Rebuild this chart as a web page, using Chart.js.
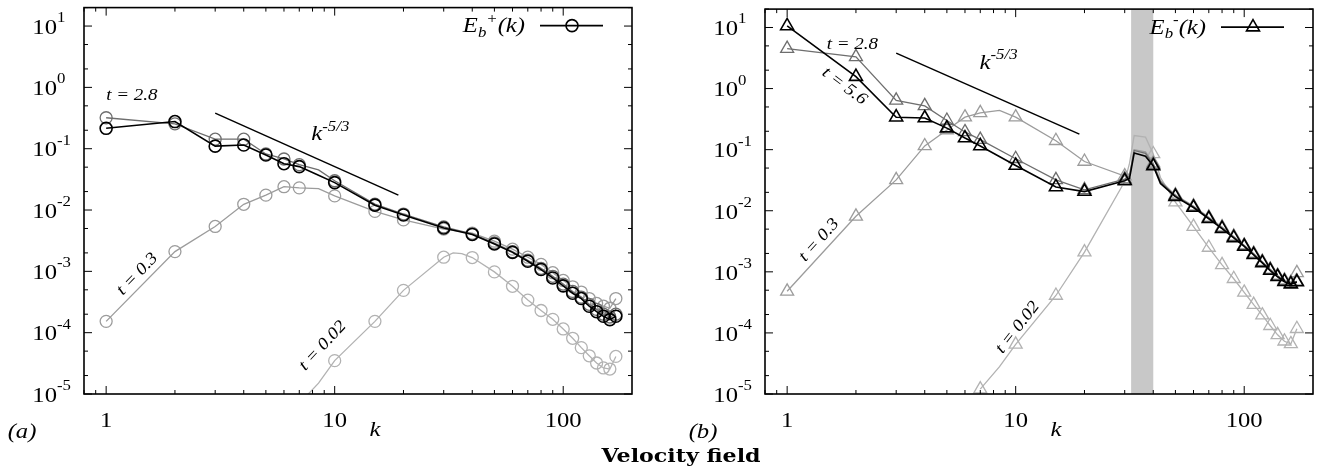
<!DOCTYPE html>
<html>
<head>
<meta charset="utf-8">
<script src="https://cdn.jsdelivr.net/npm/chart.js@4.4.0/dist/chart.umd.min.js"></script>
<style>
  html, body { margin: 0; padding: 0; background: #fff; }
  #wrap { position: relative; width: 1323px; height: 475px; }
  #wrap canvas { position: absolute; left: 0; top: 0; }
</style>
</head>
<body>
<div id="wrap">
  <canvas id="panel-a" width="1323" height="475"></canvas>
  <canvas id="panel-b" width="1323" height="475"></canvas>
</div>
<script>
// wavenumbers sampled; markers only on markedK, the rest just bend the line
const markedK = [1, 2, 3, 4, 5, 6, 7, 10, 15, 20, 30, 40, 50, 60, 70, 80, 90, 100, 110, 120, 130, 140, 150, 160, 170];

// panel (a): E_b^+(k)
const kLeft = [1, 2, 3, 4, 5, 6, 7, 8.5, 10, 15, 20, 30, 33, 36, 40, 50, 60, 70, 80, 90, 100, 110, 120, 130, 140, 150, 160, 170];
const leftT56 = [0.215, 0.277, 0.11, 0.115, 0.079, 0.057, 0.051, 0.037, 0.028, 0.012, 0.0083, 0.0051, null, null, 0.0040, 0.0028, 0.00204, 0.00146, 0.00107, 0.00078, 0.00058, 0.00044, 0.00036, 0.00027, 0.00022, 0.000185, 0.000163, 0.000185];
const leftT28 = [0.32, 0.255, 0.143, 0.143, 0.082, 0.068, 0.055, 0.045, 0.030, 0.0125, 0.0086, 0.0053, null, null, 0.0041, 0.0029, 0.0021, 0.00152, 0.00112, 0.00083, 0.00062, 0.00047, 0.00038, 0.00029, 0.00024, 0.0002, 0.00018, 0.0002];
const leftT03 = [1.53e-4, 2.1e-3, 5.4e-3, 0.0124, 0.0175, 0.024, 0.023, 0.0224, 0.017, 0.0095, 0.0069, 0.0049, null, null, 0.0042, 0.0031, 0.0023, 0.0017, 0.0013, 0.00095, 0.00071, 0.00056, 0.00046, 0.00036, 0.0003, 0.00027, 0.00025, 0.00036];
const leftT002 = [null, null, null, null, null, null, 7e-6, 1.5e-5, 3.5e-5, 1.53e-4, 4.9e-4, 1.7e-3, 2.0e-3, 1.95e-3, 1.68e-3, 9.8e-4, 5.7e-4, 3.4e-4, 2.3e-4, 1.65e-4, 1.15e-4, 8.1e-5, 5.7e-5, 4.2e-5, 3.2e-5, 2.66e-5, 2.55e-5, 4.1e-5];
const leftSlope = [[3, 0.38], [19, 0.0175]];

// panel (b): E_b^-(k)
const kRight = [1, 2, 3, 4, 5, 6, 7, 8.5, 10, 15, 20, 30, 31.5, 33, 37, 40, 43, 50, 60, 70, 80, 90, 100, 110, 120, 130, 140, 150, 160, 170];
const rightT56 = [10.6, 1.57, 0.34, 0.33, 0.225, 0.155, 0.115, null, 0.055, 0.0245, 0.0206, 0.031, 0.034, 0.088, 0.078, 0.054, 0.028, 0.017, 0.0113, 0.0074, 0.0051, 0.0036, 0.0026, 0.0019, 0.0014, 0.00105, 0.00083, 0.00069, 0.00063, 0.00068];
const rightT28 = [4.5, 3.3, 0.64, 0.52, 0.30, 0.195, 0.146, null, 0.071, 0.032, 0.022, 0.033, 0.037, 0.097, 0.087, 0.057, 0.03, 0.0175, 0.0116, 0.0076, 0.0052, 0.0037, 0.0027, 0.00195, 0.00144, 0.00108, 0.00085, 0.0007, 0.00064, 0.0007];
const rightT03 = [4.8e-4, 0.0081, 0.032, 0.115, 0.21, 0.34, 0.40, 0.44, 0.34, 0.14, 0.064, 0.037, 0.04, 0.10, 0.092, 0.06, 0.031, 0.018, 0.0119, 0.0078, 0.0054, 0.0038, 0.0027, 0.002, 0.00147, 0.0011, 0.00087, 0.00073, 0.00067, 0.00096];
const rightT002 = [null, null, null, null, null, null, 1.2e-5, 2.8e-5, 6.5e-5, 4.1e-4, 2.1e-3, 0.03, 0.06, 0.17, 0.16, 0.085, 0.035, 0.0138, 0.0055, 0.0025, 0.0013, 0.00077, 0.00046, 0.00029, 0.000195, 0.000131, 9.3e-5, 7.3e-5, 6.6e-5, 1.17e-4];
const rightSlope = [[3, 3.8], [19, 0.18]];
const forcingBand = [32, 40];

const xRange = [0.8, 200];
const yRange = [1e-5, 20];
const yDecades = [-5, -4, -3, -2, -1, 0, 1];
const xMajor = [1, 10, 100];

const SERIF = '"Liberation Serif", "Times New Roman", serif';
const HS = 1.12; // text in the source is a little wider than tall

function pts(ks, vals) {
  return ks.map((k, i) => ({ x: k, y: vals[i] }));
}

function series(label, ks, vals, color, width, style, radius, order) {
  return {
    label,
    data: pts(ks, vals),
    borderColor: color,
    borderWidth: width,
    pointStyle: style,
    pointBorderColor: color,
    pointBackgroundColor: "rgba(0,0,0,0)",
    pointBorderWidth: width,
    pointRadius: c => (c.raw && markedK.includes(c.raw.x)) ? radius : 0,
    pointHoverRadius: 0,
    fill: false,
    tension: 0,
    spanGaps: true,
    clip: 0,
    order
  };
}

function slopeLine(pair) {
  return {
    label: "slope",
    data: pair.map(p => ({ x: p[0], y: p[1] })),
    borderColor: "#000",
    borderWidth: 1.5,
    pointRadius: 0,
    fill: false,
    tension: 0,
    order: 5
  };
}

function fontOf(p) {
  return `${p.style || "italic"} ${p.size}px ${p.family || SERIF}`;
}

// rich text: parts drawn one after another, stretched by hs
function drawRich(ctx, x, y, parts, align, hs) {
  hs = hs || HS;
  let w = 0;
  parts.forEach(p => { ctx.font = fontOf(p); w += ctx.measureText(p.t).width; });
  w *= hs;
  const start = align === "right" ? x - w : align === "center" ? x - w / 2 : x;
  ctx.save();
  ctx.translate(start, y);
  ctx.scale(hs, 1);
  ctx.textBaseline = "middle";
  ctx.textAlign = "left";
  let cx = 0;
  parts.forEach(p => {
    ctx.font = fontOf(p);
    ctx.fillText(p.t, cx, p.dy || 0);
    cx += ctx.measureText(p.t).width;
  });
  ctx.restore();
}

function drawMarker(ctx, style, x, y, r) {
  ctx.beginPath();
  if (style === "triangle") {
    let a = 0;
    ctx.moveTo(x + Math.sin(a) * r, y - Math.cos(a) * r);
    a += 2 * Math.PI / 3;
    ctx.lineTo(x + Math.sin(a) * r, y - Math.cos(a) * r);
    a += 2 * Math.PI / 3;
    ctx.lineTo(x + Math.sin(a) * r, y - Math.cos(a) * r);
    ctx.closePath();
  } else {
    ctx.arc(x, y, r, 0, 2 * Math.PI);
  }
  ctx.stroke();
}

function framePlugin(cfg) {
  return {
    id: "frame-" + cfg.letter,
    beforeDatasetsDraw(chart) {
      if (!cfg.band) return;
      const { ctx, chartArea: a, scales } = chart;
      const x0 = scales.x.getPixelForValue(cfg.band[0]);
      const x1 = scales.x.getPixelForValue(cfg.band[1]);
      ctx.save();
      ctx.fillStyle = "#c8c8c8";
      ctx.fillRect(x0, a.top, x1 - x0, a.bottom - a.top);
      ctx.restore();
    },
    afterDraw(chart) {
      const { ctx, chartArea: a, scales } = chart;
      const xs = scales.x, ys = scales.y;
      ctx.save();
      ctx.strokeStyle = "#000";
      ctx.fillStyle = "#000";

      // ticks, inward on all four sides
      ctx.lineWidth = 1;
      ctx.beginPath();
      yDecades.forEach(d => {
        [1, 2, 5].forEach(m => {
          const v = m * Math.pow(10, d);
          if (v < yRange[0] || v > yRange[1]) return;
          const py = ys.getPixelForValue(v);
          const len = m === 1 ? 8 : 4;
          ctx.moveTo(a.left, py); ctx.lineTo(a.left + len, py);
          ctx.moveTo(a.right, py); ctx.lineTo(a.right - len, py);
        });
      });
      [0.1, 1, 10, 100].forEach(dec => {
        for (let m = 1; m <= 9; m++) {
          const v = m * dec;
          if (v < xRange[0] || v >= xRange[1]) continue;
          const px = xs.getPixelForValue(v);
          const len = m === 1 ? 8 : 4;
          ctx.moveTo(px, a.bottom); ctx.lineTo(px, a.bottom - len);
          ctx.moveTo(px, a.top); ctx.lineTo(px, a.top + len);
        }
      });
      ctx.stroke();

      ctx.lineWidth = 1.6;
      ctx.strokeRect(a.left, a.top, a.right - a.left, a.bottom - a.top);

      // tick labels
      yDecades.forEach(d => {
        const py = ys.getPixelForValue(Math.pow(10, d));
        drawRich(ctx, a.left - 27, py + 2, [{ t: "10", size: 22, style: "normal" }], "right");
        drawRich(ctx, a.left - 27, py - 8, [{ t: String(d), size: 15, style: "normal" }], "left");
      });
      xMajor.forEach(v => {
        drawRich(ctx, xs.getPixelForValue(v), a.bottom + 27, [{ t: String(v), size: 22, style: "normal" }], "center");
      });

      // axis name and panel letter
      drawRich(ctx, xs.getPixelForValue(15), a.bottom + 36, [{ t: "k", size: 22 }], "center");
      drawRich(ctx, a.left - 62, a.bottom + 38, [{ t: `(${cfg.letter})`, size: 22 }], "center");

      // in-plot labels
      cfg.notes.forEach(n => {
        const px = xs.getPixelForValue(n.k);
        const py = ys.getPixelForValue(n.v);
        ctx.save();
        ctx.translate(px, py);
        ctx.rotate((n.rot || 0) * Math.PI / 180);
        drawRich(ctx, 0, 0, n.parts, n.align || "center");
        ctx.restore();
      });

      // key
      const ly = a.top + 18;
      drawRich(ctx, a.right - 107, ly + 1, cfg.key, "right");
      ctx.lineWidth = 1.6;
      ctx.beginPath();
      ctx.moveTo(a.right - 92, ly); ctx.lineTo(a.right - 29, ly);
      ctx.stroke();
      drawMarker(ctx, cfg.marker, a.right - 60, ly, cfg.marker === "triangle" ? 7.5 : 6);

      if (cfg.caption) {
        drawRich(ctx, 681, 457, [{ t: "Velocity field", size: 18, style: "bold", family: '"DejaVu Serif", serif' }], "center", 1.23);
      }
      ctx.restore();
    }
  };
}

function makePanel(id, cfg) {
  const r = cfg.marker === "triangle" ? 7.5 : 6;
  const axis = (range) => ({
    type: "logarithmic", min: range[0], max: range[1],
    ticks: { display: false, padding: 0 },
    grid: { display: false, drawTicks: false },
    border: { display: false }
  });
  new Chart(document.getElementById(id), {
    type: "line",
    data: {
      datasets: [
        series("t = 5.6", cfg.k, cfg.s56, "#000000", 1.6, cfg.marker, r, 0),
        series("t = 2.8", cfg.k, cfg.s28, "#6e6e6e", 1.3, cfg.marker, r, 1),
        series("t = 0.3", cfg.k, cfg.s03, "#9c9c9c", 1.3, cfg.marker, r, 2),
        series("t = 0.02", cfg.k, cfg.s002, "#b2b2b2", 1.3, cfg.marker, r, 3),
        slopeLine(cfg.slope)
      ]
    },
    options: {
      responsive: false,
      animation: false,
      devicePixelRatio: 1,
      layout: { padding: cfg.padding },
      plugins: { legend: { display: false }, tooltip: { enabled: false } },
      scales: { x: axis(xRange), y: axis(yRange) }
    },
    plugins: [framePlugin(cfg)]
  });
}

const T = (t, size) => ({ t, size });
const SUP = (t) => ({ t, size: 15, dy: -8 });
const SUB = (t) => ({ t, size: 15, dy: 6 });

makePanel("panel-a", {
  letter: "a",
  marker: "circle",
  k: kLeft, s56: leftT56, s28: leftT28, s03: leftT03, s002: leftT002,
  slope: leftSlope,
  band: null,
  padding: { left: 84, right: 691, top: 2, bottom: 81 },
  key: [T("E", 22), SUB("b"), SUP("+"), T("(k)", 22)],
  notes: [
    { k: 1.0, v: 0.75, parts: [T("t = 2.8", 17)], align: "left" },
    { k: 7.9, v: 0.17, parts: [T("k", 22), SUP("-5/3")], align: "left" },
    { k: 1.37, v: 9e-4, parts: [T("t = 0.3", 17)], rot: -46 },
    { k: 8.87, v: 6.1e-5, parts: [T("t = 0.02", 17)], rot: -47 }
  ]
});

makePanel("panel-b", {
  letter: "b",
  marker: "triangle",
  k: kRight, s56: rightT56, s28: rightT28, s03: rightT03, s002: rightT002,
  slope: rightSlope,
  band: forcingBand,
  padding: { left: 765, right: 10, top: 2, bottom: 81 },
  key: [T("E", 22), SUB("b"), SUP("-"), T("(k)", 22)],
  caption: true,
  notes: [
    { k: 1.93, v: 5.3, parts: [T("t = 2.8", 17)] },
    { k: 1.78, v: 1.09, parts: [T("t = 5.6", 17)], rot: 37 },
    { k: 6.95, v: 2.64, parts: [T("k", 22), SUP("-5/3")], align: "left" },
    { k: 1.38, v: 0.0033, parts: [T("t = 0.3", 17)], rot: -48 },
    { k: 10.2, v: 1.23e-4, parts: [T("t = 0.02", 17)], rot: -52 }
  ]
});
</script>
</body>
</html>
